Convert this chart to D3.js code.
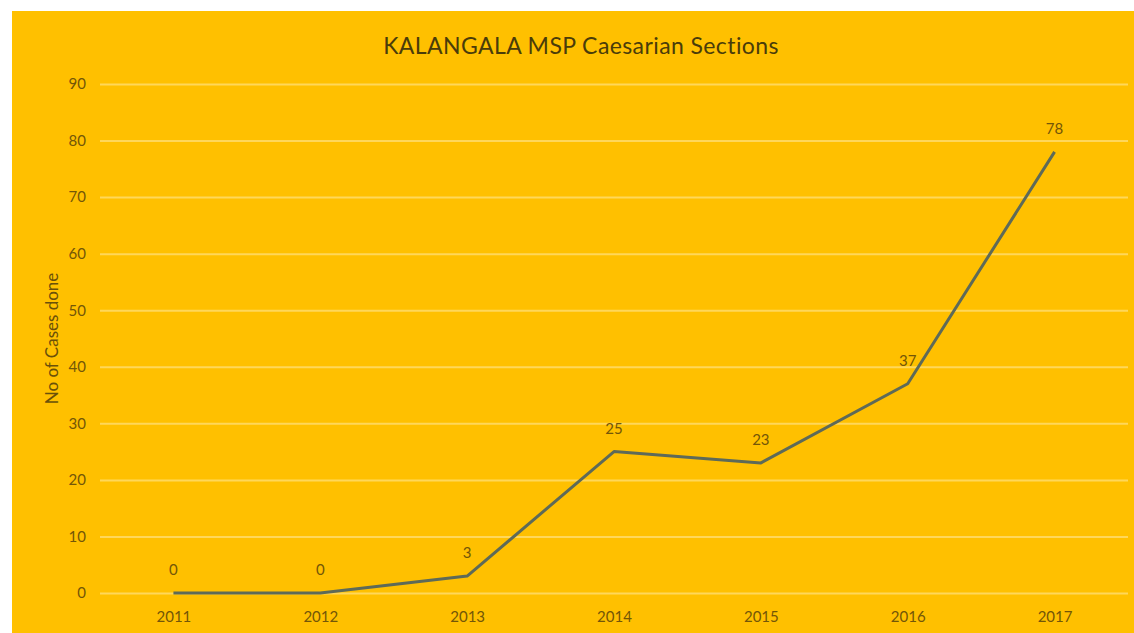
<!DOCTYPE html>
<html>
<head>
<meta charset="utf-8">
<script src="https://cdn.jsdelivr.net/npm/d3@7"></script>
<style>
  html, body { margin: 0; padding: 0; background: #ffffff; }
  svg { display: block; }
  text { font-family: Lato, "Open Sans", sans-serif; }
</style>
</head>
<body>
<svg id="chart" width="1134" height="633"></svg>
<script>
// Caesarian sections performed per year
const years = ["2011", "2012", "2013", "2014", "2015", "2016", "2017"];
const cases = [0, 0, 3, 25, 23, 37, 78];
const yTicks = [0, 10, 20, 30, 40, 50, 60, 70, 80, 90];
const chartTitle = "KALANGALA MSP Caesarian Sections";
const yAxisTitle = "No of Cases done";

const svg = d3.select("#chart");
const W = 1134, H = 633;

// panel background
svg.append("rect")
  .attr("x", 12).attr("y", 11)
  .attr("width", W - 12).attr("height", H - 11)
  .attr("fill", "#ffc000");

const plot = { left: 100, right: 1128, top: 84, bottom: 593 };

const x = d3.scalePoint().domain(years).range([plot.left, plot.right]).padding(0.5);
const y = d3.scaleLinear().domain([0, 90]).range([plot.bottom, plot.top]);

const labelColor = "#735608";

// horizontal gridlines + tick labels
const yAxis = d3.axisLeft(y).tickValues(yTicks).tickSize(-(plot.right - plot.left)).tickPadding(14);
const gy = svg.append("g").attr("transform", `translate(${plot.left},0)`).call(yAxis);
gy.select(".domain").remove();
gy.selectAll(".tick line").attr("stroke", "#ffd75a").attr("stroke-width", 2);
gy.selectAll(".tick text")
  .attr("fill", labelColor).attr("font-size", 15).attr("font-family", "Lato, sans-serif");

// category labels
const xAxis = d3.axisBottom(x).tickSize(0).tickPadding(18);
const gx = svg.append("g").attr("transform", `translate(0,${plot.bottom})`).call(xAxis);
gx.select(".domain").remove();
gx.selectAll(".tick text")
  .attr("fill", labelColor).attr("font-size", 15).attr("font-family", "Lato, sans-serif");

// series line
const line = d3.line().x((d, i) => x(years[i])).y(d => y(d));
svg.append("path")
  .datum(cases)
  .attr("d", line)
  .attr("fill", "none")
  .attr("stroke", "#5e6a58")
  .attr("stroke-width", 3)
  .attr("stroke-linejoin", "round");

// value labels above each point
svg.append("g").selectAll("text")
  .data(cases)
  .join("text")
  .attr("x", (d, i) => x(years[i]))
  .attr("y", d => y(d) - 18)
  .attr("text-anchor", "middle")
  .attr("fill", labelColor)
  .attr("font-size", 15)
  .text(d => d);

// chart title
svg.append("text")
  .attr("x", 581)
  .attr("y", 54)
  .attr("text-anchor", "middle")
  .attr("fill", "#4a3c0a")
  .attr("font-size", 23)
  .attr("letter-spacing", 0.4)
  .text(chartTitle);

// y-axis title
svg.append("text")
  .attr("transform", `translate(58,${(plot.top + plot.bottom) / 2}) rotate(-90)`)
  .attr("text-anchor", "middle")
  .attr("fill", "#6a500a")
  .attr("font-size", 17)
  .text(yAxisTitle);
</script>
</body>
</html>
